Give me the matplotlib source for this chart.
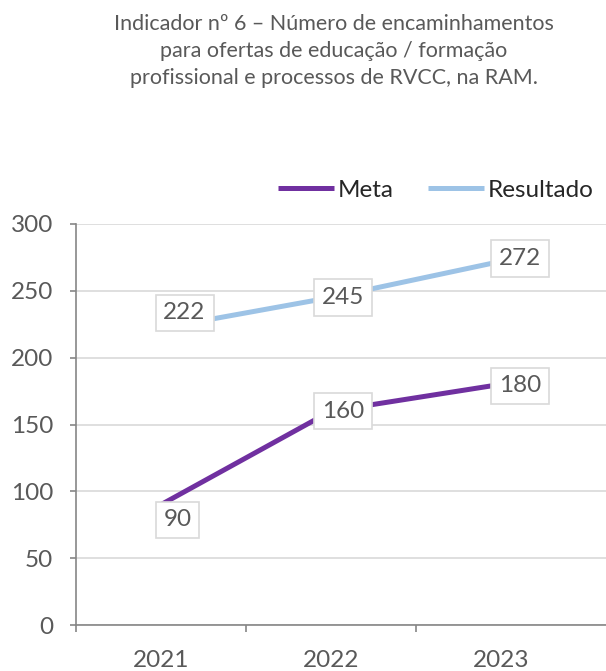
import matplotlib
matplotlib.use("Agg")
import matplotlib.pyplot as plt

plt.rcParams["font.family"] = ["Lato", "DejaVu Sans"]

# data
years = ["2021", "2022", "2023"]
meta = [90, 160, 180]
resultado = [222, 245, 272]
y_ticks = [0, 50, 100, 150, 200, 250, 300]
title = ("Indicador nº 6 – Número de encaminhamentos\n"
         "para ofertas de educação / formação\n"
         "profissional e processos de RVCC, na RAM.")

C_META = "#7030a0"
C_RES = "#9dc3e6"
GREY_TXT = "#595959"
GRID = "#d9d9d9"
AXIS = "#868686"
FS = 17.5

fig = plt.figure(figsize=(6.06, 6.71), dpi=100)
ax = fig.add_axes([76 / 606, 46 / 671, 1 - 76 / 606, (625 - 224) / 671])

x = list(range(len(years)))
ax.plot(x, resultado, color=C_RES, lw=3.6, solid_capstyle="butt", label="Resultado", zorder=3)
ax.plot(x, meta, color=C_META, lw=3.6, solid_capstyle="butt", label="Meta", zorder=3)

# data labels (offsets in points, as the reference places them)
box = dict(boxstyle="square,pad=0.32", fc="white", ec=GRID, lw=1.2)
meta_off = [(12, -11), (9, 0), (14, -1)]
res_off = [(17, 11), (9, 0), (14, 2)]
for xi, v, off in zip(x, meta, meta_off):
    ax.annotate(str(v), (xi, v), xytext=off, textcoords="offset points",
                ha="center", va="center", fontsize=FS, color=GREY_TXT, bbox=box, zorder=5)
for xi, v, off in zip(x, resultado, res_off):
    ax.annotate(str(v), (xi, v), xytext=off, textcoords="offset points",
                ha="center", va="center", fontsize=FS, color=GREY_TXT, bbox=box, zorder=5)

ax.set_ylim(0, 300)
ax.set_xlim(-0.5, 2.62)
ax.set_yticks(y_ticks)
ax.tick_params(axis="y", labelsize=FS, labelcolor=GREY_TXT, color=AXIS,
               length=4.5, width=1.2, pad=12)
ax.set_xticks(x)
ax.set_xticklabels(years)
ax.set_xticks([-0.5, 0.5, 1.5], minor=True)
ax.tick_params(axis="x", which="major", length=0, labelsize=FS, labelcolor=GREY_TXT, pad=18)
ax.tick_params(axis="x", which="minor", length=5, width=1.2, color=AXIS)
ax.grid(axis="y", color=GRID, lw=1.2)
ax.set_axisbelow(True)
for s in ["top", "right"]:
    ax.spines[s].set_visible(False)
for s in ["left", "bottom"]:
    ax.spines[s].set_color(AXIS)
    ax.spines[s].set_linewidth(1.2)

handles, labels = ax.get_legend_handles_labels()
fig.legend(handles[::-1], labels[::-1], loc="center", bbox_to_anchor=(436 / 606, 1 - 190 / 671),
           ncol=2, frameon=False, fontsize=FS, handlelength=2.3, handletextpad=0.15,
           columnspacing=1.4, labelcolor="#262626")

fig.text(334 / 606, 1 - 51 / 671, title, ha="center", va="center", fontsize=15.5,
         color=GREY_TXT, linespacing=1.42)

fig.savefig("out.png", dpi=100)
